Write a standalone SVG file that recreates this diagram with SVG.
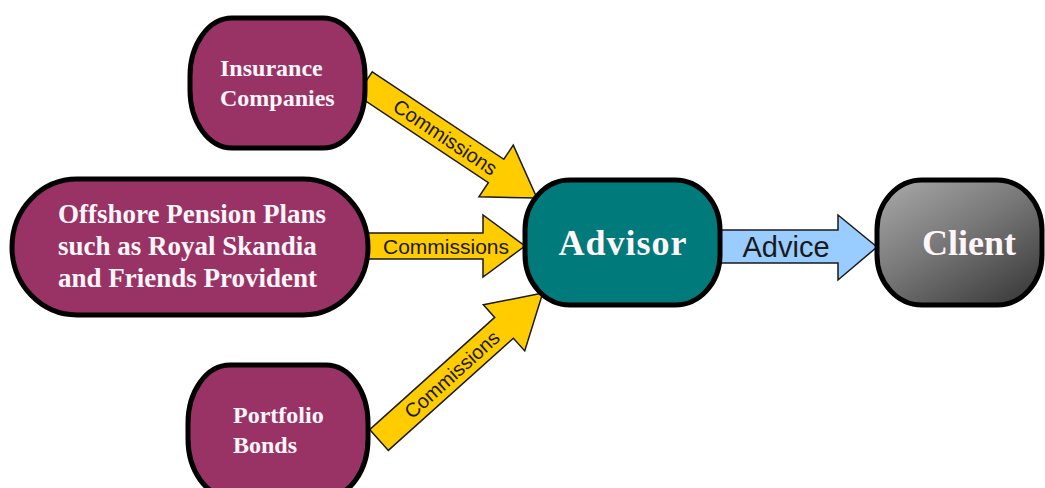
<svg xmlns="http://www.w3.org/2000/svg" width="1045" height="488" viewBox="0 0 1045 488">
  <defs>
    <style>
      .src { fill: #993366; stroke: #000; stroke-width: 5; }
      .adv { fill: #007A7A; stroke: #000; stroke-width: 5; }
      .cli { fill: url(#clientFill); stroke: #000; stroke-width: 5; }
      .comm { fill: #FFCC00; stroke: #1a1a1a; stroke-width: 1.5; stroke-linejoin: miter; }
      .advice { fill: #99CCFF; stroke: #1a1a1a; stroke-width: 1.5; }
      .nodeText { font-family: "Liberation Serif", "Times New Roman", serif; font-weight: bold; fill: #FFF6FA; }
      .arrowText { font-family: "Liberation Sans", Arial, sans-serif; fill: #1a1a1a; }
    </style>
    <linearGradient id="clientFill" x1="0" y1="0" x2="0.8" y2="1">
      <stop offset="0" stop-color="#ABABAB"/>
      <stop offset="0.5" stop-color="#787878"/>
      <stop offset="1" stop-color="#3E3E3E"/>
    </linearGradient>
  </defs>

  <!-- connectors -->
  <g id="connectors">
    <g id="comm-insurance" transform="translate(364.5,83.5) rotate(33.6)">
      <polygon class="comm" points="0,-14 158,-14 158,-31 207,0 158,31 158,14 0,14"/>
      <text class="arrowText" x="97" y="7" font-size="20" text-anchor="middle">Commissions</text>
    </g>
    <g id="comm-offshore" transform="translate(350,246)">
      <polygon class="comm" points="0,-13 133,-13 133,-31 175,0 133,31 133,13 0,13"/>
      <text class="arrowText" x="96" y="7.5" font-size="21" text-anchor="middle">Commissions</text>
    </g>
    <g id="comm-bonds" transform="translate(379,440) rotate(-41.9)">
      <polygon class="comm" points="0,-14 168,-14 168,-31 220,0 168,31 168,14 0,14"/>
      <text class="arrowText" x="98" y="7" font-size="20" text-anchor="middle">Commissions</text>
    </g>
    <g id="advice-arrow">
      <polygon class="advice" points="720,230 838,230 838,215 877,247 838,280 838,263 720,263"/>
      <text class="arrowText" x="786" y="257" font-size="29" text-anchor="middle">Advice</text>
    </g>
  </g>

  <!-- source nodes -->
  <g id="insurance">
    <rect class="src" x="190" y="18" width="175" height="130" rx="42" ry="58"/>
    <text class="nodeText" x="220" y="76" font-size="24">Insurance</text>
    <text class="nodeText" x="220" y="106" font-size="24">Companies</text>
  </g>
  <g id="offshore">
    <rect class="src" x="12" y="179" width="356" height="136" rx="65" ry="68"/>
    <text class="nodeText" x="58" y="223" font-size="27">Offshore Pension Plans</text>
    <text class="nodeText" x="58" y="255" font-size="27">such as Royal Skandia</text>
    <text class="nodeText" x="58" y="287" font-size="27">and Friends Provident</text>
  </g>
  <g id="bonds">
    <rect class="src" x="188" y="365" width="180" height="132" rx="42" ry="58"/>
    <text class="nodeText" x="233" y="423" font-size="24">Portfolio</text>
    <text class="nodeText" x="233" y="453" font-size="24">Bonds</text>
  </g>

  <!-- advisor -->
  <g id="advisor">
    <rect class="adv" x="525" y="180" width="195" height="125" rx="45" ry="50"/>
    <text class="nodeText" x="623" y="255" font-size="36" text-anchor="middle" letter-spacing="1">Advisor</text>
  </g>

  <!-- client -->
  <g id="client">
    <rect class="cli" x="877" y="180" width="165" height="125" rx="45" ry="50"/>
    <text class="nodeText" x="969" y="255" font-size="36" text-anchor="middle" fill="#FFFFFF">Client</text>
  </g>
</svg>
